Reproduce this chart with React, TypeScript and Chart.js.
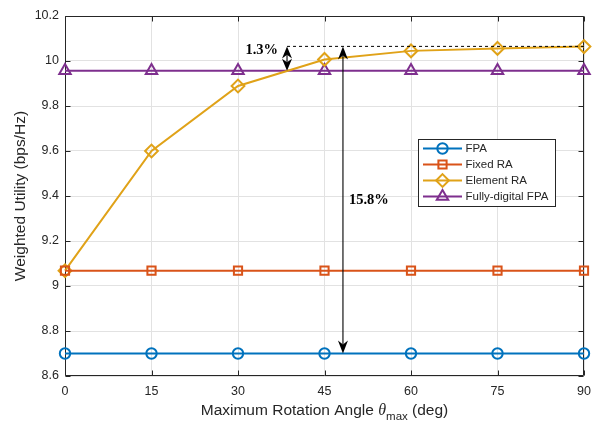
import React, { useEffect, useRef } from 'react';
import { Chart, registerables } from 'chart.js';

Chart.register(...registerables);

// ---- data ----
const angles = [0, 15, 30, 45, 60, 75, 90];
const fpa = [8.7, 8.7, 8.7, 8.7, 8.7, 8.7, 8.7];
const fixedRA = [9.068, 9.068, 9.068, 9.068, 9.068, 9.068, 9.068];
const elementRA = [9.068, 9.6, 9.889, 10.007, 10.045, 10.056, 10.064];
const fullyDigital = [9.957, 9.957, 9.957, 9.957, 9.957, 9.957, 9.957];
const seriesNames = ['FPA', 'Fixed RA', 'Element RA', 'Fully-digital FPA'];
const seriesColors = ['#0072BD', '#D95319', '#E0A218', '#7E2F8E'];
const seriesMarkers = ['circle', 'rect', 'rectRot', 'triangle'];
const seriesMarkerSizes = [5.2, 5.8, 6.4, 6.6];

// annotation values (data units)
const refLevel = 10.065;
const dashedFrom = 38.5;
const dashedTo = 90;
const smallArrow = { x: 38.5, from: 10.065, to: 9.957, label: '1.3%' };
const bigArrow = { x: 48.2, from: 10.065, to: 8.7, label: '15.8%' };

const xTitleMain = 'Maximum Rotation Angle ';
const xTitleSym = 'θ';
const xTitleSub = 'max';
const xTitleEnd = ' (deg)';
const yTitle = 'Weighted Utility (bps/Hz)';

const AXIS = '#262626';
const SANS = '"Liberation Sans", Arial, Helvetica, sans-serif';
const SERIF = '"Liberation Serif", "Times New Roman", serif';

function drawMarker(ctx: CanvasRenderingContext2D, style: string, r: number, x: number, y: number) {
  ctx.beginPath();
  if (style === 'circle') {
    ctx.arc(x, y, r, 0, Math.PI * 2);
  } else if (style === 'rect') {
    const s = Math.SQRT1_2 * r;
    ctx.rect(x - s, y - s, 2 * s, 2 * s);
  } else if (style === 'rectRot') {
    ctx.moveTo(x, y - r);
    ctx.lineTo(x + r, y);
    ctx.lineTo(x, y + r);
    ctx.lineTo(x - r, y);
    ctx.closePath();
  } else {
    for (let k = 0; k < 3; k++) {
      const ang = (k * 2 * Math.PI) / 3;
      const px = x + Math.sin(ang) * r;
      const py = y - Math.cos(ang) * r;
      if (k === 0) ctx.moveTo(px, py); else ctx.lineTo(px, py);
    }
    ctx.closePath();
  }
  ctx.stroke();
}

function drawArrowHead(ctx: CanvasRenderingContext2D, x: number, tipY: number, dir: number, L: number, W: number) {
  ctx.beginPath();
  ctx.moveTo(x, tipY);
  ctx.lineTo(x + W / 2, tipY + dir * L);
  ctx.lineTo(x, tipY + dir * L * 0.7);
  ctx.lineTo(x - W / 2, tipY + dir * L);
  ctx.closePath();
  ctx.fill();
}

const decorPlugin = {
  id: 'decor',
  beforeDatasetsDraw(chart: any) {
    const { ctx, chartArea: a, scales } = chart;
    ctx.save();
    ctx.strokeStyle = AXIS;
    ctx.lineWidth = 1;
    const L = Math.round(a.left) + 0.5;
    const R = Math.round(a.right) - 0.5;
    const T = Math.round(a.top) + 0.5;
    const B = Math.round(a.bottom) - 0.5;
    ctx.beginPath();
    ctx.rect(L, T, R - L, B - T);
    ctx.stroke();
    const tl = 5;
    ctx.beginPath();
    scales.x.ticks.forEach((t: any) => {
      const px = Math.round(scales.x.getPixelForValue(t.value)) + 0.5;
      ctx.moveTo(px, B); ctx.lineTo(px, B - tl);
      ctx.moveTo(px, T); ctx.lineTo(px, T + tl);
    });
    scales.y.ticks.forEach((t: any) => {
      const py = Math.round(scales.y.getPixelForValue(t.value)) + 0.5;
      ctx.moveTo(L, py); ctx.lineTo(L + tl, py);
      ctx.moveTo(R, py); ctx.lineTo(R - tl, py);
    });
    ctx.stroke();
    ctx.restore();
  },
  afterDatasetsDraw(chart: any) {
    const { ctx, chartArea: a, scales } = chart;
    const xs = scales.x, ys = scales.y;
    ctx.save();
    ctx.strokeStyle = '#000';
    ctx.lineWidth = 1;
    ctx.setLineDash([3, 3]);
    ctx.beginPath();
    const ry = ys.getPixelForValue(refLevel);
    ctx.moveTo(xs.getPixelForValue(dashedFrom), ry);
    ctx.lineTo(xs.getPixelForValue(dashedTo), ry);
    ctx.stroke();
    ctx.setLineDash([]);
    ctx.fillStyle = '#000';
    [smallArrow, bigArrow].forEach((ar, i) => {
      const x = xs.getPixelForValue(ar.x);
      const y1 = ys.getPixelForValue(ar.from);
      const y2 = ys.getPixelForValue(ar.to);
      const hl = i === 0 ? 12 : 13;
      const hw = i === 0 ? 10 : 10;
      ctx.lineWidth = 1.1;
      ctx.beginPath();
      ctx.moveTo(x, y1 + hl * 0.7);
      ctx.lineTo(x, y2 - hl * 0.7);
      ctx.stroke();
      drawArrowHead(ctx, x, y1, 1, hl, hw);
      drawArrowHead(ctx, x, y2, -1, hl, hw);
    });
    ctx.font = `bold 14.5px ${SERIF}`;
    ctx.textBaseline = 'alphabetic';
    ctx.textAlign = 'right';
    ctx.fillText(smallArrow.label, xs.getPixelForValue(smallArrow.x) - 9, 54);
    ctx.textAlign = 'left';
    ctx.fillText(bigArrow.label, xs.getPixelForValue(bigArrow.x) + 6, 204);

    // legend
    const lx = 418.5, ly = 139.5, lw = 137, lh = 67;
    ctx.fillStyle = '#fff';
    ctx.fillRect(lx, ly, lw, lh);
    ctx.strokeStyle = AXIS;
    ctx.lineWidth = 1;
    ctx.strokeRect(lx, ly, lw, lh);
    chart.data.datasets.forEach((ds: any, i: number) => {
      const cy = 148.5 + i * 16;
      ctx.strokeStyle = ds.borderColor;
      ctx.lineWidth = 2;
      ctx.beginPath();
      ctx.moveTo(423, cy);
      ctx.lineTo(462, cy);
      ctx.stroke();
      drawMarker(ctx, ds.pointStyle, ds.pointRadius, 442.5, cy);
      ctx.fillStyle = AXIS;
      ctx.font = `11.5px ${SANS}`;
      ctx.textAlign = 'left';
      ctx.textBaseline = 'middle';
      ctx.fillText(ds.label, 465.5, cy + 0.5);
    });

    // y title
    ctx.fillStyle = AXIS;
    ctx.save();
    ctx.translate(21, (a.top + a.bottom) / 2);
    ctx.rotate(-Math.PI / 2);
    ctx.font = `15.5px ${SANS}`;
    ctx.textAlign = 'center';
    ctx.textBaseline = 'middle';
    ctx.fillText(yTitle, 0, 0);
    ctx.restore();

    // x title with subscript
    const fMain = `15.5px ${SANS}`;
    const fSym = `italic 16px ${SERIF}`;
    const fSub = `11.5px ${SANS}`;
    ctx.font = fMain; const w1 = ctx.measureText(xTitleMain).width; const w4 = ctx.measureText(xTitleEnd).width;
    ctx.font = fSym; const w2 = ctx.measureText(xTitleSym).width;
    ctx.font = fSub; const w3 = ctx.measureText(xTitleSub).width;
    const total = w1 + w2 + w3 + w4;
    let x = (a.left + a.right) / 2 - total / 2;
    const base = 415;
    ctx.textAlign = 'left';
    ctx.textBaseline = 'alphabetic';
    ctx.font = fMain; ctx.fillText(xTitleMain, x, base); x += w1;
    ctx.font = fSym; ctx.fillText(xTitleSym, x, base); x += w2;
    ctx.font = fSub; ctx.fillText(xTitleSub, x, base + 5); x += w3;
    ctx.font = fMain; ctx.fillText(xTitleEnd, x, base);
    ctx.restore();
  },
};

export default function App() {
  const ref = useRef<HTMLCanvasElement | null>(null);
  useEffect(() => {
    if (!ref.current) return;
    const series = [fpa, fixedRA, elementRA, fullyDigital];
    const chart = new Chart(ref.current, {
      type: 'line',
      data: {
        datasets: series.map((s, i) => ({
          label: seriesNames[i],
          data: angles.map((a, j) => ({ x: a, y: s[j] })),
          borderColor: seriesColors[i],
          backgroundColor: 'rgba(0,0,0,0)',
          pointBackgroundColor: 'rgba(0,0,0,0)',
          pointBorderColor: seriesColors[i],
          pointStyle: seriesMarkers[i] as any,
          pointRadius: seriesMarkerSizes[i],
          pointBorderWidth: 2,
          borderWidth: 2,
          tension: 0,
          clip: false as any,
        })),
      },
      options: {
        responsive: false,
        animation: false,
        layout: { padding: { top: 16, right: 12, left: 0, bottom: 0 } },
        plugins: { legend: { display: false }, tooltip: { enabled: false } },
        scales: {
          x: {
            type: 'linear',
            min: 0,
            max: 90,
            ticks: { stepSize: 15, color: AXIS, font: { family: SANS, size: 12.5 }, padding: 8, maxRotation: 0 },
            grid: { color: '#e2e2e2', drawTicks: false },
            border: { display: false },
            afterFit: (s: any) => { s.height = 46; s.paddingLeft = 0; s.paddingRight = 0; },
          },
          y: {
            type: 'linear',
            min: 8.6,
            max: 10.2,
            ticks: {
              stepSize: 0.2,
              color: AXIS,
              font: { family: SANS, size: 12.5 },
              padding: 6,
              callback: (v: any) => String(Number(Number(v).toFixed(1))),
            },
            grid: { color: '#e2e2e2', drawTicks: false },
            border: { display: false },
            afterFit: (s: any) => { s.width = 65; s.paddingTop = 0; s.paddingBottom = 0; },
          },
        },
      },
      plugins: [decorPlugin],
    });
    return () => chart.destroy();
  }, []);
  return (
    <div style={{ position: 'fixed', left: 0, top: 0, width: 596, height: 422, background: '#fff' }}>
      <canvas ref={ref} width={596} height={422} />
    </div>
  );
}
